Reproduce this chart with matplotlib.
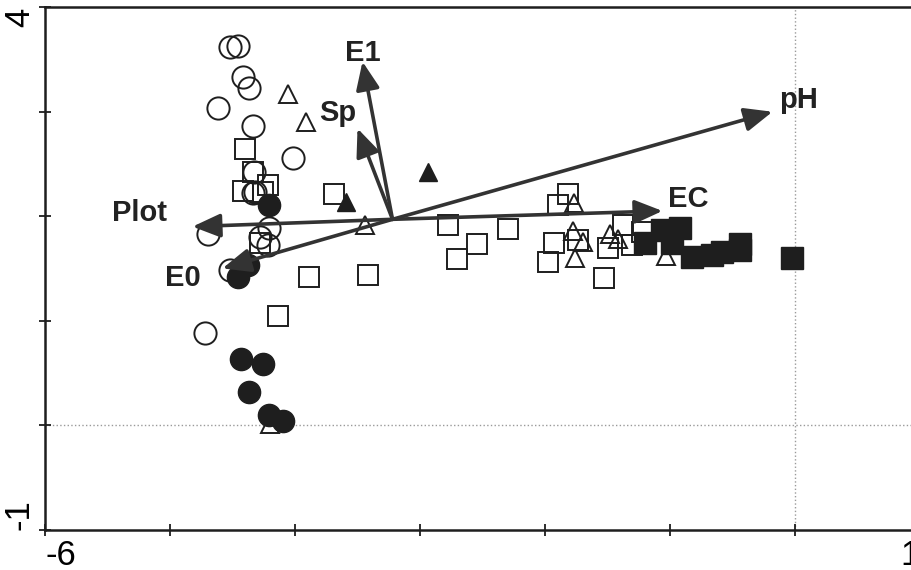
import matplotlib
matplotlib.use("Agg")
import matplotlib.pyplot as plt

plt.rcParams['font.family'] = ['Liberation Sans', 'DejaVu Sans']

# sample scores, grouped by marker
open_circle_x = [-4.52, -4.46, -4.42, -4.37, -4.62, -4.34, -4.02, -4.33, -4.34, -4.32, -4.70, -4.21, -4.28, -4.22, -4.52, -4.72]
open_circle_y = [3.62, 3.63, 3.33, 3.23, 3.04, 2.86, 2.56, 2.42, 2.22, 2.23, 1.83, 1.89, 1.80, 1.72, 1.48, 0.88]

filled_circle_x = [-4.21, -4.38, -4.46, -4.43, -4.26, -4.37, -4.21, -4.10]
filled_circle_y = [2.11, 1.53, 1.42, 0.63, 0.58, 0.32, 0.10, 0.04]

open_square_x = [-4.40, -4.34, -4.22, -4.42, -4.26, -4.28, -3.69, -2.78, -2.54, -2.70, -2.30,
                 -1.82, -1.90, -1.93, -1.98, -1.74, -1.50, -1.38, -1.22, -1.30, -1.53, -3.42, -3.89, -4.14]
open_square_y = [2.64, 2.42, 2.30, 2.24, 2.23, 1.74, 2.21, 1.92, 1.73, 1.59, 1.88,
                 2.21, 2.11, 1.74, 1.56, 1.77, 1.70, 1.92, 1.85, 1.72, 1.41, 1.44, 1.42, 1.04]

filled_square_x = [-1.20, -1.06, -0.92, -0.98, -0.82, -0.66, -0.58, -0.44, -0.44, -0.02]
filled_square_y = [1.74, 1.87, 1.89, 1.74, 1.61, 1.63, 1.66, 1.73, 1.68, 1.60]

open_triangle_x = [-4.06, -3.91, -3.44, -4.20, -1.77, -1.78, -1.70, -1.76, -1.48, -1.42, -1.03]
open_triangle_y = [3.17, 2.90, 1.92, 0.01, 2.13, 1.86, 1.75, 1.60, 1.83, 1.78, 1.62]

filled_triangle_x = [-2.94, -3.59]
filled_triangle_y = [2.42, 2.14]

# environmental vectors
origin = (-3.22, 1.97)
vec_names = ['E1', 'Sp', 'pH', 'EC', 'Plot', 'E0']
vec_x = [-3.46, -3.50, -0.18, -1.06, -4.82, -4.58]
vec_y = [3.48, 2.84, 3.00, 2.05, 1.90, 1.50]
label_x = [-3.46, -3.66, 0.03, -0.85, -5.24, -4.90]
label_y = [3.56, 2.99, 3.11, 2.16, 2.03, 1.41]

fig = plt.figure(figsize=(9.12, 5.70), dpi=100)
ax = fig.add_axes([45 / 912, 1 - 529.5 / 570, 875 / 912, 522.2 / 570])

ax.axvline(0, color='#9a9a9a', lw=1, ls=':', zorder=0)
ax.axhline(0, color='#9a9a9a', lw=1, ls=':', zorder=0)

ink = '#1e1e1e'
ax.plot(open_circle_x, open_circle_y, 'o', ms=16, mfc='none', mec=ink, mew=1.4)
ax.plot(open_square_x, open_square_y, 's', ms=15, mfc='none', mec=ink, mew=1.4)
ax.plot(open_triangle_x, open_triangle_y, '^', ms=13, mfc='none', mec=ink, mew=1.4)
ax.plot(filled_circle_x, filled_circle_y, 'o', ms=16, mfc=ink, mec=ink)
ax.plot(filled_square_x, filled_square_y, 's', ms=15.5, mfc=ink, mec=ink)
ax.plot(filled_triangle_x, filled_triangle_y, '^', ms=13, mfc=ink, mec=ink)

for name, tx, ty, lx, ly in zip(vec_names, vec_x, vec_y, label_x, label_y):
    ax.annotate('', xy=(tx, ty), xytext=origin,
                arrowprops=dict(arrowstyle='-|>,head_length=0.85,head_width=0.36',
                                mutation_scale=20, lw=2.6, color='#333333',
                                shrinkA=0, shrinkB=0), zorder=5)
    ax.text(lx, ly, name, fontsize=21, fontweight='bold', color='#222222',
            ha='center', va='center', zorder=6)

ax.set_xlim(-6, 1)
ax.set_ylim(-1, 4)
ax.set_xticks(range(-6, 2))
ax.set_xticklabels(['-6', '', '', '', '', '', '', '1'])
ax.set_yticks(range(-1, 5))
ax.set_yticklabels(['-1', '', '', '', '', '4'], rotation=90)
ax.tick_params(direction='inout', length=9, width=1.3, labelsize=25, color=ink, pad=2)
xl = ax.get_xticklabels()
xl[0].set_ha('left')
xl[-1].set_ha('right')
yl = ax.get_yticklabels()
yl[0].set_va('bottom')
yl[-1].set_va('top')
for s in ax.spines.values():
    s.set_linewidth(1.8)
    s.set_color(ink)

fig.savefig('out.png', dpi=100)
